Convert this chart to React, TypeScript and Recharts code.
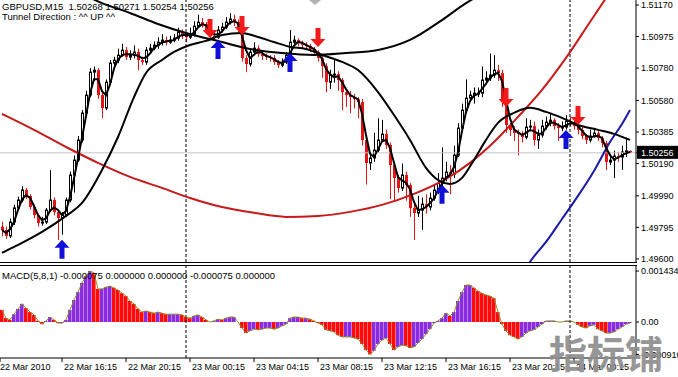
import React from 'react';
import { ComposedChart, Bar, Line, Scatter, XAxis, YAxis, ReferenceLine, Cell } from 'recharts';

const FONT = '"Liberation Sans", Arial, sans-serif';
const BEAR = '#e31414';
const PURPLE = '#8a2be2';
const HIST_RED = '#ff0a0a';

// ---- GBPUSD M15 candles (bar index 0..157) ----
const firstOpen = 1.498;
const closes = [
  1.49779, 1.49742, 1.49828, 1.49915, 1.49964, 1.50026, 1.49989, 1.49921, 1.49871, 1.49822,
  1.49828, 1.49902, 1.49964, 1.4989, 1.49853, 1.49871, 1.49964, 1.50119, 1.50211, 1.50335,
  1.50502, 1.50613, 1.50755, 1.50767, 1.50613, 1.50533, 1.50693, 1.50811, 1.50829, 1.5086,
  1.50891, 1.50848, 1.5086, 1.50879, 1.50829, 1.50817, 1.50891, 1.50903, 1.50922, 1.5094,
  1.50953, 1.5094, 1.50953, 1.50965, 1.51002, 1.50984, 1.50971, 1.5099, 1.51039, 1.51064,
  1.51052, 1.51015, 1.50978, 1.50971, 1.51015, 1.51033, 1.51064, 1.51083, 1.51064, 1.51027,
  1.50842, 1.50805, 1.50879, 1.50903, 1.50866, 1.50854, 1.50848, 1.50842, 1.50817, 1.50798,
  1.50817, 1.5086, 1.5094, 1.50953, 1.50934, 1.50922, 1.50916, 1.50897, 1.50879, 1.50842,
  1.50792, 1.50693, 1.50737, 1.50743, 1.50706, 1.50631, 1.50613, 1.50601, 1.50588, 1.5057,
  1.50335, 1.50193, 1.50224, 1.50273, 1.50335, 1.50372, 1.50304, 1.5018, 1.501, 1.50038,
  1.50119, 1.50057, 1.49915, 1.49884, 1.49902, 1.49939, 1.49921, 1.49976, 1.50026, 1.50069,
  1.501, 1.50137, 1.50125, 1.50242, 1.50409, 1.5052, 1.50594, 1.50613, 1.50625, 1.50625,
  1.50706, 1.50718, 1.50737, 1.50767, 1.50749, 1.50582, 1.50428, 1.50397, 1.50378, 1.50372,
  1.50353, 1.50415, 1.50421, 1.50335, 1.50366, 1.50421, 1.50446, 1.50458, 1.50421, 1.50409,
  1.50415, 1.50452, 1.50446, 1.50421, 1.50397, 1.5036, 1.50335, 1.5036, 1.50378, 1.50347,
  1.50316, 1.50199, 1.50211, 1.50236, 1.5023, 1.50261, 1.50268, 1.50256,
];
const highs = [
  1.4983, 1.498, 1.4985, 1.49935, 1.49985, 1.5005, 1.5004, 1.5, 1.49935, 1.4988,
  1.4986, 1.49915, 1.50149, 1.4998, 1.499, 1.4989, 1.4998, 1.5014, 1.5024, 1.5036,
  1.5052, 1.5064, 1.5078, 1.5079, 1.5078, 1.5063, 1.5071, 1.5083, 1.5085, 1.509,
  1.5093, 1.5091, 1.5089, 1.5092, 1.509, 1.5085, 1.5091, 1.5093, 1.50945, 1.5097,
  1.5099, 1.50975, 1.5098, 1.5099, 1.5103, 1.5102, 1.51, 1.5103, 1.5107, 1.5111,
  1.5109, 1.51065, 1.5103, 1.51, 1.5104, 1.5106, 1.51095, 1.5112, 1.5111, 1.5108,
  1.5104, 1.5086, 1.509, 1.5094, 1.5092, 1.5088, 1.5087, 1.5086, 1.5086, 1.5083,
  1.5084, 1.5088, 1.51015, 1.5098, 1.50965, 1.5095, 1.5094, 1.5093, 1.5091, 1.5089,
  1.5086, 1.5081, 1.5077, 1.5083, 1.5076, 1.5072, 1.5065, 1.5064, 1.5062, 1.506,
  1.5059, 1.5035, 1.5026, 1.5038, 1.5047, 1.5046, 1.504, 1.5032, 1.502, 1.5012,
  1.5019, 1.5014, 1.5007, 1.4994, 1.4999, 1.4998, 1.5, 1.5001, 1.5006, 1.5013,
  1.5029, 1.502, 1.5018, 1.503, 1.5044, 1.5056, 1.5071, 1.5064, 1.5066, 1.5066,
  1.5079, 1.5076, 1.5087, 1.5086, 1.508, 1.5077, 1.506, 1.5044, 1.5042, 1.504,
  1.5039, 1.5047, 1.5046, 1.5045, 1.504, 1.5046, 1.5048, 1.505, 1.5047, 1.5044,
  1.5045, 1.5049, 1.5048, 1.5047, 1.5044, 1.5042, 1.5037, 1.504, 1.5041, 1.5039,
  1.5036, 1.5033, 1.5025, 1.5027, 1.5026, 1.503, 1.5035, 1.50271,
];
const lows = [
  1.4974, 1.49725, 1.4973, 1.4981, 1.499, 1.4995, 1.4997, 1.49905, 1.4985, 1.498,
  1.49805, 1.49815, 1.4989, 1.4987, 1.49717, 1.4975, 1.4986, 1.4995, 1.5001, 1.502,
  1.5032, 1.5049, 1.506, 1.507, 1.5059, 1.50471, 1.5052, 1.5068, 1.5079, 1.5081,
  1.5085, 1.5083, 1.5083, 1.5084, 1.50767, 1.508, 1.508, 1.5087, 1.5089, 1.509,
  1.5092, 1.5092, 1.5093, 1.5094, 1.5095, 1.5096, 1.5094, 1.5096, 1.50975, 1.5103,
  1.5103, 1.50995, 1.50955, 1.5095, 1.5096, 1.51, 1.5102, 1.5105, 1.5104, 1.51,
  1.5082, 1.50755, 1.5079, 1.5086, 1.5085, 1.5083, 1.5083, 1.5082, 1.508, 1.5078,
  1.50785, 1.50805, 1.5085, 1.5092, 1.50915, 1.509, 1.50895, 1.5088, 1.5086, 1.5082,
  1.5072, 1.5063, 1.5065, 1.5069, 1.5064, 1.5052, 1.5054, 1.505, 1.5053, 1.5047,
  1.503, 1.5006, 1.5015, 1.502, 1.5026, 1.5033, 1.5028, 1.4997, 1.4996, 1.5001,
  1.5002, 1.4996, 1.4986, 1.49717, 1.4986, 1.4978, 1.4988, 1.499, 1.4996, 1.5,
  1.5005, 1.5008, 1.5, 1.501, 1.5023, 1.504, 1.505, 1.5057, 1.5056, 1.506,
  1.506, 1.5068, 1.507, 1.5072, 1.507, 1.5054, 1.5038, 1.5036, 1.5033, 1.5024,
  1.5032, 1.5034, 1.5039, 1.503, 1.5028, 1.5035, 1.504, 1.5042, 1.504, 1.5033,
  1.5039, 1.504, 1.5042, 1.504, 1.5037, 1.5034, 1.5031, 1.5032, 1.5035, 1.5033,
  1.5029, 1.5015, 1.5018, 1.501, 1.502, 1.5015, 1.5023, 1.50254,
];

// ---- indicator lines read at anchor bars ----
const slowBars = [0, 1, 5, 10, 16, 20, 25, 29, 33, 36, 40, 43, 47, 51, 55, 60, 64, 68, 72, 76, 80, 85, 89, 94, 98, 102, 106, 109, 112, 115, 118, 121, 124, 128, 132, 136, 140, 144, 149, 153, 156, 157];
const slowValues = [1.49637, 1.4965, 1.49699, 1.49767, 1.49866, 1.49946, 1.5015, 1.50354, 1.50601, 1.5075, 1.5083, 1.5088, 1.50923, 1.50948, 1.50985, 1.50997, 1.50972, 1.50941, 1.50911, 1.50898, 1.50861, 1.50818, 1.50768, 1.50632, 1.5049, 1.50336, 1.50163, 1.50088, 1.50064, 1.50101, 1.50212, 1.50336, 1.50441, 1.50503, 1.50534, 1.50509, 1.50472, 1.50428, 1.50398, 1.50373, 1.50345, 1.50336];
const arcBars = [20, 25, 32, 39, 46, 55, 62, 70, 78, 86, 94, 102, 110, 116, 120];
const arcValues = [1.51238, 1.51182, 1.51121, 1.51053, 1.50997, 1.50941, 1.50898, 1.50873, 1.50861, 1.50873, 1.50892, 1.50954, 1.51077, 1.51182, 1.51238];
const redBars = [0, 1, 8, 16, 24, 32, 40, 47, 55, 63, 71, 79, 87, 95, 103, 111, 117, 123, 129, 135, 141, 147, 152];
const redValues = [1.50496, 1.50484, 1.50398, 1.50292, 1.50194, 1.50107, 1.50039, 1.49977, 1.49921, 1.49885, 1.4986, 1.49866, 1.49891, 1.49934, 1.50002, 1.50095, 1.50194, 1.50323, 1.50478, 1.50645, 1.50843, 1.51065, 1.5125];
const blueBars = [130, 132, 136, 140, 144, 148, 152, 155, 157];
const blueValues = [1.49501, 1.49582, 1.49705, 1.49847, 1.4999, 1.50144, 1.50323, 1.50434, 1.50521];

// ---- signal arrows ----
const upArrowBars = [15, 54, 72, 110, 141];
const upArrowPrices = [1.49718, 1.50954, 1.50873, 1.50058, 1.50397];
const downArrowBars = [52, 60, 79, 126, 144];
const downArrowPrices = [1.50966, 1.50985, 1.5091, 1.5054, 1.50428];

// ---- MACD(5,8,1) histogram ----
const macdBefore = 0.00045;
const macd = [
  0.00034, 0.00011, 0.00006, 0.00022, 0.00037, 0.00051, 0.00039, 0.00028, 0.0002, 0.00003,
  -0.00006, 0.00003, 0.00014, 0.00006, -0.00003, -0.00003, 0.00006, 0.00034, 0.00062, 0.00084,
  0.0011, 0.00129, 0.001434, 0.00138, 0.00093, 0.00093, 0.00098, 0.00101, 0.00096, 0.0009,
  0.00081, 0.00073, 0.00059, 0.00051, 0.00037, 0.00028, 0.00031, 0.00028, 0.00025, 0.00028,
  0.00025, 0.00022, 0.00022, 0.00022, 0.00022, 0.0002, 0.00014, 0.00011, 0.00017, 0.0002,
  0.00014, 0.00006, 0, 0.00003, 0.00008, 0.00006, 0.00011, 0.00014, 0.00014, 0,
  -0.00017, -0.00031, -0.00025, -0.0002, -0.00022, -0.0002, -0.00017, -0.00017, -0.0002, -0.00017,
  -0.00011, -0.00006, 0.00011, 0.00014, 0.00014, 0.00011, 0.00011, 0.00008, 0.00003, -0.00003,
  -0.00008, -0.00022, -0.00025, -0.00028, -0.00037, -0.00042, -0.00042, -0.00042, -0.00045, -0.00048,
  -0.00062, -0.00079, -0.00091, -0.00081, -0.00062, -0.00051, -0.00045, -0.00062, -0.00079, -0.0007,
  -0.00065, -0.00067, -0.00073, -0.0007, -0.00059, -0.00048, -0.00034, -0.0002, -0.00003, 0.00003,
  0.00011, 0.00025, 0.00017, 0.00028, 0.00059, 0.00084, 0.00104, 0.00104, 0.00096, 0.00087,
  0.00081, 0.00076, 0.00073, 0.00067, 0.00028, -0.00006, -0.00025, -0.00037, -0.00042, -0.00048,
  -0.00042, -0.00031, -0.00025, -0.00022, -0.00014, -0.00006, 0.00003, 0.00003, 0.00003, 0,
  0, 0.00003, 0.00003, 0, -0.00008, -0.00014, -0.00017, -0.00011, -0.00008, -0.0002,
  -0.00025, -0.00031, -0.00031, -0.00028, -0.0002, -0.00014, -0.00006, -0.00003,
];

// ---- axes ----
const priceTicks = [1.496, 1.49795, 1.4999, 1.5019, 1.50385, 1.5058, 1.5078, 1.50975, 1.5117];
const lastPrice = 1.50256;
const timeTickBars = [-0.5, 15, 31, 47, 63, 79, 95, 111, 127, 143];
const timeTickLabels = ['22 Mar 2010', '22 Mar 16:15', '22 Mar 20:15', '23 Mar 00:15', '23 Mar 04:15', '23 Mar 08:15', '23 Mar 12:15', '23 Mar 16:15', '23 Mar 20:15', '24 Mar 00:15'];
const daySeparatorBars = [46, 142];
const macdTicks = [0.001434, 0, -0.00091];
const macdTickLabels = ['0.001434', '0.00', '-0.000910'];

type Row = {
  i: number; open: number; high: number; low: number; close: number; fast: number;
  macd: number; macdColor: string;
  slow: number | null; arc: number | null; red: number | null; blue: number | null;
};

const rows: Row[] = closes.map((close, i) => {
  const win = closes.slice(Math.max(0, i - 2), i + 1);
  const prev = i === 0 ? macdBefore : macd[i - 1];
  return {
    i,
    open: i === 0 ? firstOpen : closes[i - 1],
    high: highs[i],
    low: lows[i],
    close,
    fast: win.reduce((a, b) => a + b, 0) / win.length,
    macd: macd[i],
    macdColor: macd[i] >= prev ? PURPLE : HIST_RED,
    slow: null,
    arc: null,
    red: null,
    blue: null,
  };
});
slowBars.forEach((b, k) => { rows[b].slow = slowValues[k]; });
arcBars.forEach((b, k) => { rows[b].arc = arcValues[k]; });
redBars.forEach((b, k) => { rows[b].red = redValues[k]; });
blueBars.forEach((b, k) => { rows[b].blue = blueValues[k]; });

const upArrows = upArrowBars.map((b, k) => ({ i: b, price: upArrowPrices[k] }));
const downArrows = downArrowBars.map((b, k) => ({ i: b, price: downArrowPrices[k] }));

const Candle = (props: any) => {
  const { x, y, width, height, payload } = props;
  if (x == null || y == null || !payload) return null;
  const { open, close, high, low } = payload;
  const cx = Math.round(x + width / 2);
  const k = height / (high - low);
  const yOf = (v: number) => y + (high - v) * k;
  const bull = close >= open;
  const top = yOf(Math.max(open, close));
  const bot = yOf(Math.min(open, close));
  const h = Math.max(bot - top, 1);
  if (bull) {
    return (
      <g>
        <line x1={cx + 0.5} x2={cx + 0.5} y1={y} y2={y + height} stroke="#000" strokeWidth={1} />
        <rect x={cx - 0.5} y={top} width={2} height={h} fill="#fff" stroke="#000" strokeWidth={1} />
      </g>
    );
  }
  return (
    <g>
      <line x1={cx + 0.5} x2={cx + 0.5} y1={y} y2={y + height} stroke={BEAR} strokeWidth={1} />
      <rect x={cx - 1} y={top} width={3} height={h} fill={BEAR} />
    </g>
  );
};

const UpArrow = (props: any) => {
  const { cx, cy } = props;
  if (cx == null || cy == null) return null;
  const pts = [
    [cx, cy], [cx + 7.5, cy + 8], [cx + 2.5, cy + 8], [cx + 2.5, cy + 19],
    [cx - 2.5, cy + 19], [cx - 2.5, cy + 8], [cx - 7.5, cy + 8],
  ].map((p) => p.join(',')).join(' ');
  return <polygon points={pts} fill="#1010d8" />;
};

const DownArrow = (props: any) => {
  const { cx, cy } = props;
  if (cx == null || cy == null) return null;
  const pts = [
    [cx, cy], [cx + 7.5, cy - 8], [cx + 2.5, cy - 8], [cx + 2.5, cy - 19],
    [cx - 2.5, cy - 19], [cx - 2.5, cy - 8], [cx - 7.5, cy - 8],
  ].map((p) => p.join(',')).join(' ');
  return <polygon points={pts} fill="#f41a1a" />;
};

const PriceTick = (props: any) => {
  const { x, y, payload } = props;
  const v = payload.value as number;
  if (v === lastPrice) {
    return (
      <g>
        <rect x={x - 4} y={y - 7} width={42} height={13} fill="#000" />
        <text x={x} y={y} dy="0.355em" fontSize={9} fontFamily={FONT} fill="#fff">{v.toFixed(5)}</text>
      </g>
    );
  }
  return <text x={x} y={y} dy="0.355em" fontSize={9} fontFamily={FONT} fill="#000">{v.toFixed(5)}</text>;
};

const MacdTick = (props: any) => {
  const { x, y, payload } = props;
  const k = macdTicks.indexOf(payload.value);
  return <text x={x} y={y} dy="0.355em" fontSize={9} fontFamily={FONT} fill="#000">{k >= 0 ? macdTickLabels[k] : ''}</text>;
};

const TimeTick = (props: any) => {
  const { x, y, payload } = props;
  const k = timeTickBars.indexOf(payload.value);
  return (
    <text x={k === 0 ? 0 : x + 2} y={y} dy="0.71em" fontSize={9} fontFamily={FONT} fill="#000" textAnchor="start">
      {k >= 0 ? timeTickLabels[k] : ''}
    </text>
  );
};

export default function App() {
  return (
    <div style={{ position: 'absolute', left: 0, top: 0, width: 678, height: 377, background: '#fff', overflow: 'hidden' }}>
      <div style={{ position: 'absolute', left: 0, top: 0 }}>
        <ComposedChart width={678} height={265} data={rows} margin={{ top: 0, right: 0, bottom: 3, left: 0 }}>
          <XAxis dataKey="i" type="number" domain={[-0.5, 158.5]} allowDataOverflow hide />
          <YAxis
            orientation="right"
            width={42}
            domain={[1.49581, 1.51201]}
            allowDataOverflow
            ticks={[...priceTicks, lastPrice]}
            interval={0}
            tick={<PriceTick />}
            tickSize={3}
            tickMargin={2}
            axisLine={{ stroke: '#000' }}
            tickLine={{ stroke: '#000' }}
          />
          <ReferenceLine y={lastPrice} stroke="#c4c4c4" strokeWidth={1} />
          {daySeparatorBars.map((b) => (
            <ReferenceLine key={b} x={b} stroke="#000" strokeDasharray="3 2" strokeWidth={1} />
          ))}
          <Bar dataKey={(d: Row) => [d.low, d.high]} barSize={3} shape={<Candle />} isAnimationActive={false} />
          <Line dataKey="red" type="monotone" stroke="#c81a1a" strokeWidth={2} dot={false} activeDot={false} connectNulls isAnimationActive={false} />
          <Line dataKey="blue" type="monotone" stroke="#1a1aa8" strokeWidth={2} dot={false} activeDot={false} connectNulls isAnimationActive={false} />
          <Line dataKey="arc" type="monotone" stroke="#000" strokeWidth={2} dot={false} activeDot={false} connectNulls isAnimationActive={false} />
          <Line dataKey="slow" type="monotone" stroke="#000" strokeWidth={2} dot={false} activeDot={false} connectNulls isAnimationActive={false} />
          <Line dataKey="fast" type="linear" stroke="#000" strokeWidth={2} dot={false} activeDot={false} isAnimationActive={false} />
          <Scatter data={upArrows} dataKey="price" shape={<UpArrow />} isAnimationActive={false} />
          <Scatter data={downArrows} dataKey="price" shape={<DownArrow />} isAnimationActive={false} />
        </ComposedChart>
      </div>
      <div style={{ position: 'absolute', left: 0, top: 264 }}>
        <ComposedChart width={678} height={113} data={rows} margin={{ top: 1, right: 0, bottom: 0, left: 0 }}>
          <XAxis
            dataKey="i"
            type="number"
            domain={[-0.5, 158.5]}
            allowDataOverflow
            ticks={timeTickBars}
            interval={0}
            height={19}
            tick={<TimeTick />}
            tickSize={4}
            tickMargin={2}
            axisLine={{ stroke: '#000' }}
            tickLine={{ stroke: '#000' }}
          />
          <YAxis
            orientation="right"
            width={42}
            domain={[-0.001012, 0.001603]}
            allowDataOverflow
            ticks={macdTicks}
            interval={0}
            tick={<MacdTick />}
            tickSize={3}
            tickMargin={2}
            axisLine={{ stroke: '#000' }}
            tickLine={{ stroke: '#000' }}
          />
          {daySeparatorBars.map((b) => (
            <ReferenceLine key={b} x={b} stroke="#000" strokeDasharray="3 2" strokeWidth={1} />
          ))}
          <Bar dataKey="macd" barSize={4} isAnimationActive={false}>
            {rows.map((r) => (
              <Cell key={r.i} fill={r.macdColor} />
            ))}
          </Bar>
          <Line dataKey="macd" type="linear" stroke="#8e8e2a" strokeWidth={1} dot={false} activeDot={false} isAnimationActive={false} />
        </ComposedChart>
      </div>
      <svg width={678} height={377} style={{ position: 'absolute', left: 0, top: 0, pointerEvents: 'none' }}>
        <line x1={0} x2={637} y1={262.5} y2={262.5} stroke="#000" />
        <line x1={0} x2={637} y1={265.5} y2={265.5} stroke="#000" />
        <polygon points="309,0 321,0 315,5" fill="#b4b4b4" />
        <text x={2} y={10} fontSize={9.5} fontFamily={FONT} fill="#000" style={{ whiteSpace: 'pre' }}>
          {'GBPUSD,M15  1.50268 1.50271 1.50254 1.50256'}
        </text>
        <text x={2} y={20} fontSize={9.5} fontFamily={FONT} fill="#000" style={{ whiteSpace: 'pre' }}>
          {'Tunnel Direction : ^^ UP ^^'}
        </text>
        <text x={2} y={279} fontSize={9.5} fontFamily={FONT} fill="#000" style={{ whiteSpace: 'pre' }}>
          {'MACD(5,8,1) -0.000075 0.000000 0.000000 -0.000075 0.000000'}
        </text>
        <text x={549} y={368} fontSize={38} fontWeight={700} fontFamily={'"Noto Sans CJK SC", sans-serif'} fill="#8e8e8e" opacity={0.92}>
          指标铺
        </text>
      </svg>
    </div>
  );
}
